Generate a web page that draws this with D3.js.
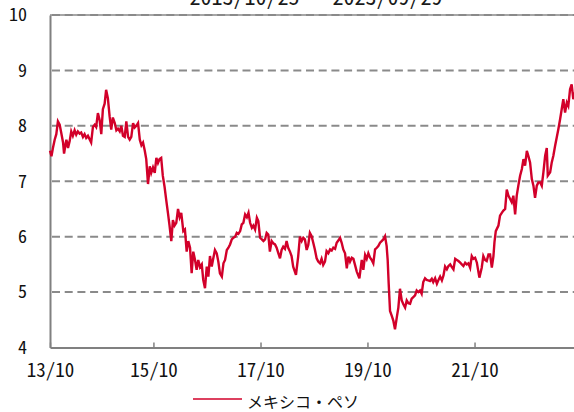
<!DOCTYPE html>
<html>
<head>
<meta charset="utf-8">
<script src="https://cdn.jsdelivr.net/npm/d3@7"></script>
<style>
html, body { margin: 0; padding: 0; background: #fff; }
svg { display: block; font-family: "Noto Sans CJK JP", sans-serif; }
.num { font-feature-settings: "hwid"; }
</style>
</head>
<body>
<svg id="chart"></svg>
<script>
// 円/ペソ
const dates = [
  "2013-10-25","2013-11-04","2013-11-14","2013-11-26","2013-12-07","2013-12-18","2013-12-30",
  "2014-01-10","2014-01-22","2014-01-29","2014-02-07","2014-02-14","2014-02-25","2014-03-08",
  "2014-03-19","2014-03-30","2014-04-11","2014-04-22","2014-05-03","2014-05-15","2014-05-26",
  "2014-06-07","2014-06-18","2014-06-29","2014-07-11","2014-07-22","2014-08-02","2014-08-14",
  "2014-08-26","2014-09-05","2014-09-17","2014-09-29","2014-10-10","2014-10-21","2014-11-02",
  "2014-11-12","2014-11-24","2014-12-06","2014-12-17","2014-12-28","2015-01-10","2015-01-21",
  "2015-02-01","2015-02-13","2015-02-24","2015-03-07","2015-03-19","2015-03-30","2015-04-11",
  "2015-04-22","2015-05-03","2015-05-15","2015-05-26","2015-06-06","2015-06-18","2015-06-30",
  "2015-07-11","2015-07-22","2015-08-03","2015-08-13","2015-08-25","2015-09-06","2015-09-16",
  "2015-09-28","2015-10-10","2015-10-21","2015-11-01","2015-11-12","2015-11-23","2015-12-04",
  "2015-12-16","2015-12-27","2016-01-08","2016-01-19","2016-01-31","2016-02-11","2016-02-22",
  "2016-03-05","2016-03-17","2016-03-28","2016-04-08","2016-04-22","2016-05-03","2016-05-15",
  "2016-05-26","2016-06-07","2016-06-18","2016-06-29","2016-07-11","2016-07-22","2016-08-02",
  "2016-08-14","2016-08-26","2016-09-05","2016-09-17","2016-09-29","2016-10-10","2016-10-21",
  "2016-11-02","2016-11-12","2016-11-24","2016-12-06","2016-12-17","2016-12-28","2017-01-10",
  "2017-01-21","2017-02-01","2017-02-13","2017-02-24","2017-03-07","2017-03-19","2017-03-30",
  "2017-04-11","2017-04-22","2017-05-03","2017-05-15","2017-05-26","2017-06-06","2017-06-18",
  "2017-06-30","2017-07-11","2017-07-22","2017-08-03","2017-08-13","2017-08-25","2017-09-06",
  "2017-09-16","2017-09-28","2017-10-10","2017-10-21","2017-11-01","2017-11-12","2017-11-23",
  "2017-12-04","2017-12-16","2017-12-27","2018-01-08","2018-01-19","2018-01-31","2018-02-11",
  "2018-02-22","2018-03-05","2018-03-17","2018-03-28","2018-04-08","2018-04-20","2018-05-01",
  "2018-05-12","2018-05-31","2018-06-15","2018-06-27","2018-07-09","2018-07-20","2018-07-31",
  "2018-08-12","2018-08-23","2018-09-03","2018-09-15","2018-09-26","2018-10-07","2018-10-19",
  "2018-10-30","2018-11-11","2018-11-22","2018-12-03","2018-12-15","2018-12-26","2019-01-07",
  "2019-01-19","2019-01-30","2019-02-10","2019-02-22","2019-03-05","2019-03-16","2019-03-28",
  "2019-04-08","2019-04-19","2019-05-01","2019-05-13","2019-05-24","2019-06-04","2019-06-16",
  "2019-06-27","2019-07-08","2019-07-20","2019-08-07","2019-08-23","2019-09-03","2019-09-15",
  "2019-09-26","2019-10-07","2019-10-19","2019-10-30","2019-11-10","2019-11-22","2019-12-04",
  "2019-12-14","2019-12-26","2020-01-06","2020-01-17","2020-01-29","2020-02-09","2020-02-16",
  "2020-02-23","2020-03-03","2020-03-15","2020-03-26","2020-04-06","2020-04-18","2020-04-29",
  "2020-05-10","2020-05-22","2020-06-02","2020-06-14","2020-06-25","2020-07-06","2020-07-18",
  "2020-07-29","2020-08-09","2020-08-21","2020-09-01","2020-09-12","2020-09-24","2020-10-05",
  "2020-10-16","2020-10-28","2020-11-08","2020-11-19","2020-12-01","2020-12-13","2020-12-23",
  "2021-01-05","2021-01-17","2021-01-28","2021-02-08","2021-02-20","2021-03-03","2021-03-14",
  "2021-03-26","2021-04-06","2021-04-18","2021-04-29","2021-05-10","2021-05-22","2021-06-02",
  "2021-06-13","2021-06-25","2021-07-06","2021-07-17","2021-07-29","2021-08-09","2021-08-20",
  "2021-09-01","2021-09-12","2021-09-23","2021-10-05","2021-10-17","2021-11-03","2021-11-19",
  "2021-11-30","2021-12-12","2021-12-23","2022-01-04","2022-01-15","2022-01-27","2022-02-07",
  "2022-02-14","2022-02-23","2022-03-13","2022-03-24","2022-04-05","2022-04-16","2022-04-28",
  "2022-05-09","2022-05-20","2022-06-01","2022-06-12","2022-06-23","2022-07-05","2022-07-16",
  "2022-07-27","2022-08-08","2022-08-20","2022-08-31","2022-09-11","2022-09-23","2022-10-04",
  "2022-10-15","2022-10-27","2022-11-07","2022-11-18","2022-11-30","2022-12-11","2022-12-23",
  "2023-01-03","2023-01-14","2023-01-26","2023-02-06","2023-02-13","2023-03-01","2023-03-12",
  "2023-03-23","2023-04-04","2023-04-15","2023-04-26","2023-05-08","2023-05-19","2023-05-30",
  "2023-06-11","2023-06-23","2023-07-03","2023-07-15","2023-07-26","2023-08-06","2023-08-18"
];
const yenPerPeso = [
  7.55,7.45,7.6,7.75,7.85,8.08,8.02,
  7.87,7.7,7.5,7.65,7.75,7.6,7.72,
  7.9,7.82,7.92,7.84,7.9,7.86,7.88,
  7.8,7.85,7.78,7.82,7.76,7.7,7.98,
  8.02,7.98,8.23,8.1,7.85,8.3,8.4,
  8.65,8.5,8.17,7.93,8.15,8.05,7.92,
  7.95,7.9,8.0,7.82,7.8,8.08,7.8,
  7.75,7.8,8.05,7.97,8.0,8.05,7.75,
  7.65,7.7,7.55,7.4,6.95,7.27,7.15,
  7.25,7.15,7.42,7.33,7.4,7.42,7.1,
  6.9,6.67,6.43,6.2,5.92,6.3,6.2,
  6.25,6.5,6.35,6.43,6.1,6.13,5.73,
  5.92,5.8,5.34,5.73,5.58,5.4,5.58,
  5.45,5.5,5.22,5.07,5.46,5.28,5.65,
  5.46,5.6,5.76,5.7,5.55,5.34,5.28,
  5.52,5.58,5.76,5.8,5.86,5.95,5.98,
  6.0,6.07,6.05,6.1,6.22,6.25,6.4,
  6.35,6.43,6.25,6.16,6.2,6.13,6.34,
  6.28,5.98,5.95,5.92,5.95,6.07,6.04,
  5.73,5.92,5.88,5.86,5.8,5.7,5.61,
  5.76,5.82,5.78,5.92,5.8,5.73,5.65,
  5.46,5.31,5.64,6.0,5.92,5.98,5.95,
  5.76,5.85,6.07,6.01,5.89,5.77,5.61,
  5.55,5.52,5.6,5.49,5.55,5.74,5.7,
  5.77,5.75,5.8,5.78,5.89,5.93,5.98,
  5.89,5.77,5.7,5.43,5.64,5.55,5.62,
  5.6,5.49,5.37,5.25,5.58,5.4,5.67,
  5.6,5.7,5.62,5.58,5.52,5.77,5.8,
  5.83,5.89,5.92,5.95,6.01,5.83,5.58,
  5.15,4.66,4.57,4.48,4.33,4.54,4.72,
  5.06,4.85,4.78,4.72,4.85,4.8,4.79,
  4.88,4.91,4.94,5.03,5.0,5.03,4.97,
  5.18,5.25,5.22,5.21,5.2,5.24,5.18,
  5.25,5.15,5.22,5.28,5.21,5.3,5.46,
  5.41,5.47,5.5,5.45,5.41,5.6,5.58,
  5.56,5.53,5.5,5.47,5.53,5.5,5.52,
  5.44,5.65,5.6,5.62,5.53,5.26,5.44,
  5.65,5.58,5.56,5.68,5.68,5.44,5.65,
  5.9,6.1,6.2,6.38,6.43,6.47,6.5,
  6.85,6.74,6.68,6.62,6.74,6.4,6.74,
  6.92,7.1,7.22,7.4,7.28,7.55,7.45,
  7.34,7.04,6.92,6.7,6.92,6.98,6.98,
  6.92,7.16,7.46,7.6,7.1,7.16,7.34,
  7.46,7.64,7.79,7.94,8.12,8.3,8.48,
  8.24,8.42,8.36,8.66,8.75,8.48,8.6
];
const yTicks = [4, 5, 6, 7, 8, 9, 10];
const xTickDates = ["2013-10-25", "2015-10-01", "2017-10-01", "2019-10-01", "2021-10-01"];
const xTickLabels = ["13/10", "15/10", "17/10", "19/10", "21/10"];
const titleText = "2013/10/25 ～ 2023/09/29";
const legendLabel = "メキシコ・ペソ";

const width = 574;
const height = 412;
const red = "#d2002a";

const svg = d3.select("#chart")
    .attr("width", width)
    .attr("height", height);

const parse = d3.timeParse("%Y-%m-%d");
const series = dates.map((d, i) => ({ date: parse(d), value: yenPerPeso[i] }));

const x = d3.scaleTime()
    .domain([parse("2013-10-25"), parse("2023-10-25")])
    .range([50, 585]);

const y = d3.scaleLinear()
    .domain([4, 10])
    .range([347.5, 15]);

// タイトル (上が切れている)
svg.append("text")
    .attr("class", "num")
    .attr("x", 316)
    .attr("y", 4.5)
    .attr("text-anchor", "middle")
    .attr("font-size", 22)
    .attr("fill", "#1a1a1a")
    .text(titleText);

// 上端の枠線
svg.append("line")
    .attr("x1", 50).attr("x2", width)
    .attr("y1", y(10)).attr("y2", y(10))
    .attr("stroke", "#a6a6a6")
    .attr("stroke-width", 2);

// 点線のグリッド
svg.selectAll(".grid")
    .data(yTicks.filter(v => v > 4))
    .enter().append("line")
    .attr("class", "grid")
    .attr("x1", 52).attr("x2", width)
    .attr("y1", d => y(d)).attr("y2", d => y(d))
    .attr("stroke", "#8a8a8a")
    .attr("stroke-width", 2)
    .attr("stroke-dasharray", "8,4.7");

// x軸
const xAxis = svg.append("g")
    .attr("transform", `translate(0,${y(4)})`)
    .call(d3.axisBottom(x)
        .tickValues(xTickDates.map(parse))
        .tickFormat((d, i) => xTickLabels[i])
        .tickSize(-5)
        .tickSizeOuter(0)
        .tickPadding(16));

xAxis.select(".domain").attr("stroke", "#808080").attr("stroke-width", 2);
xAxis.selectAll(".tick line").attr("stroke", "#808080").attr("stroke-width", 1.5);
xAxis.selectAll(".tick text")
    .attr("class", "num")
    .attr("font-family", "Noto Sans CJK JP")
    .attr("font-size", 19)
    .attr("fill", "#111");

// y軸
const yAxis = svg.append("g")
    .attr("transform", "translate(50,0)")
    .call(d3.axisLeft(y)
        .tickValues(yTicks)
        .tickFormat(d3.format("d"))
        .tickSize(0)
        .tickPadding(23));

yAxis.select(".domain").attr("stroke", "#808080").attr("stroke-width", 2);
yAxis.selectAll(".tick text")
    .attr("class", "num")
    .attr("font-family", "Noto Sans CJK JP")
    .attr("font-size", 18)
    .attr("fill", "#111");

// 為替ライン
const line = d3.line()
    .x(d => x(d.date))
    .y(d => y(d.value));

svg.append("path")
    .datum(series)
    .attr("fill", "none")
    .attr("stroke", red)
    .attr("stroke-width", 2.4)
    .attr("stroke-linejoin", "miter")
    .attr("d", line);

// 凡例
svg.append("line")
    .attr("x1", 193).attr("x2", 242)
    .attr("y1", 399).attr("y2", 399)
    .attr("stroke", red)
    .attr("stroke-width", 1.5);

svg.append("text")
    .attr("x", 247)
    .attr("y", 408)
    .attr("font-size", 16)
    .attr("fill", "#111")
    .text(legendLabel);
</script>
</body>
</html>
